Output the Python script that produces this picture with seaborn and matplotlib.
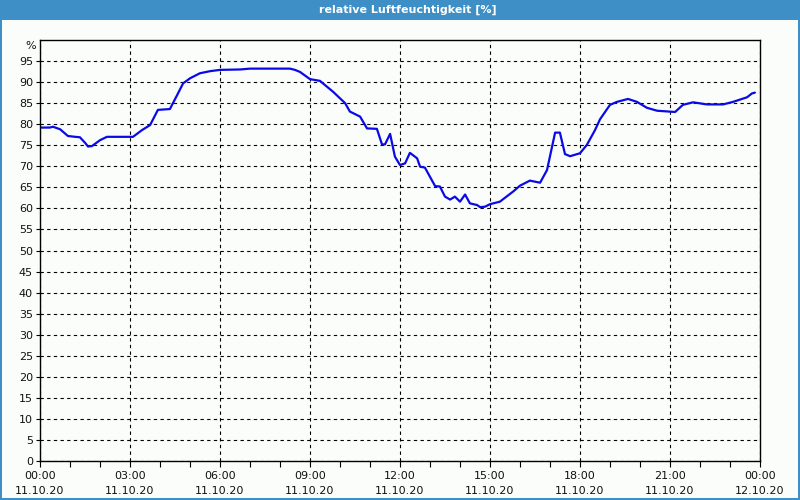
import matplotlib
matplotlib.use("Agg")
import matplotlib.pyplot as plt
import seaborn as sns
import pandas as pd
from matplotlib.patches import Rectangle

# ---- data -------------------------------------------------------------
hours = [0.0, 0.33, 0.43, 0.67, 0.93, 1.17, 1.33, 1.5, 1.6, 1.73, 2.0, 2.23,
         2.5, 2.83, 3.1, 3.4, 3.67, 3.93, 4.33, 4.57, 4.77, 5.0, 5.33, 5.67,
         6.0, 6.67, 7.0, 8.33, 8.5, 8.67, 9.0, 9.33, 9.77, 10.17, 10.33, 10.67,
         10.9, 11.23, 11.4, 11.5, 11.67, 11.83, 12.0, 12.17, 12.33, 12.57,
         12.67, 12.83, 13.17, 13.33, 13.5, 13.67, 13.83, 14.0, 14.17, 14.33,
         14.57, 14.67, 14.83, 15.0, 15.33, 15.77, 16.0, 16.33, 16.67, 16.9,
         17.17, 17.33, 17.5, 17.67, 18.0, 18.23, 18.5, 18.67, 19.0, 19.23,
         19.6, 19.9, 20.23, 20.57, 21.17, 21.43, 21.77, 22.23, 22.77, 23.1,
         23.57, 23.73, 23.83]
humidity = [79.2, 79.2, 79.4, 78.8, 77.2, 77.0, 76.9, 75.6, 74.7, 74.8, 76.2,
            77.0, 77.0, 77.0, 77.0, 78.6, 79.8, 83.4, 83.6, 86.9, 89.7, 90.9,
            92.1, 92.6, 92.9, 93.0, 93.2, 93.2, 92.9, 92.4, 90.7, 90.3, 87.7,
            85.0, 83.0, 81.8, 79.0, 78.9, 75.2, 75.2, 77.7, 72.3, 70.3, 70.7,
            73.2, 71.9, 69.9, 69.7, 65.3, 65.2, 62.8, 62.1, 62.8, 61.6, 63.3,
            61.2, 60.8, 60.3, 60.4, 61.0, 61.6, 64.0, 65.4, 66.6, 66.1, 69.1,
            78.0, 78.0, 72.9, 72.4, 73.1, 75.1, 78.6, 81.2, 84.6, 85.3, 86.0,
            85.3, 83.9, 83.2, 82.9, 84.6, 85.2, 84.7, 84.7, 85.3, 86.4, 87.3,
            87.5]
major_ticks = [0, 3, 6, 9, 12, 15, 18, 21, 24]
tick_labels = ["00:00\n11.10.20", "03:00\n11.10.20", "06:00\n11.10.20",
               "09:00\n11.10.20", "12:00\n11.10.20", "15:00\n11.10.20",
               "18:00\n11.10.20", "21:00\n11.10.20", "00:00\n12.10.20"]
y_ticks = list(range(0, 100, 5))
title = "relative Luftfeuchtigkeit [%]"
unit = "%"

df = pd.DataFrame({"Stunde": hours, "Feuchte": humidity})

# ---- figure -------------------------------------------------------------
sns.set_theme(style="white")
plt.rcParams["font.family"] = ["DejaVu Sans"]
bg = "#fbfdfb"
frame_blue = "#3d8fc6"

fig = plt.figure(figsize=(8, 5), dpi=100, facecolor=bg)
ax = fig.add_axes([40 / 800, 39 / 500, 720 / 800, 421 / 500])
ax.set_facecolor(bg)

sns.lineplot(data=df, x="Stunde", y="Feuchte", ax=ax, color="#0a0ae6",
             linewidth=1.6, estimator=None)

ax.set_xlim(0, 24)
ax.set_ylim(0, 100)
ax.set_xticks(major_ticks)
ax.set_xticklabels(tick_labels, fontsize=8, color="#111111", linespacing=1.7)
ax.set_xticks(range(0, 25), minor=True)
ax.set_yticks(y_ticks)
ax.set_yticklabels([str(v) for v in y_ticks], fontsize=8, color="#111111")
ax.set_xlabel("")
ax.set_ylabel("")
ax.tick_params(axis="x", which="both", direction="out", length=4, width=0.8,
               color="black", bottom=True, pad=3)
ax.tick_params(axis="y", which="both", direction="out", length=3, width=0.8,
               color="black", left=True, pad=2)

ax.grid(True, which="major", color="black", linestyle=(0, (3, 3)),
        linewidth=0.8)
for s in ax.spines.values():
    s.set_color("black")
    s.set_linewidth(1.0)

ax.text(-0.006, 1 - 6 / 421, unit, transform=ax.transAxes, ha="right",
        va="center", fontsize=8, color="#111111")

# window chrome
fig.patches.append(Rectangle((0, 480 / 500), 1, 20 / 500, transform=fig.transFigure,
                             facecolor=frame_blue, edgecolor="none", zorder=0))
fig.patches.append(Rectangle((0, 0), 2 / 800, 1, transform=fig.transFigure,
                             facecolor=frame_blue, edgecolor="none", zorder=0))
fig.patches.append(Rectangle((798 / 800, 0), 2 / 800, 1, transform=fig.transFigure,
                             facecolor=frame_blue, edgecolor="none", zorder=0))
fig.patches.append(Rectangle((0, 0), 1, 2 / 500, transform=fig.transFigure,
                             facecolor=frame_blue, edgecolor="none", zorder=0))
fig.text(408 / 800, 1 - 10 / 500, title, ha="center", va="center",
         color="white", fontsize=8, fontweight="bold")

fig.savefig("out.png", dpi=100, facecolor=bg)
